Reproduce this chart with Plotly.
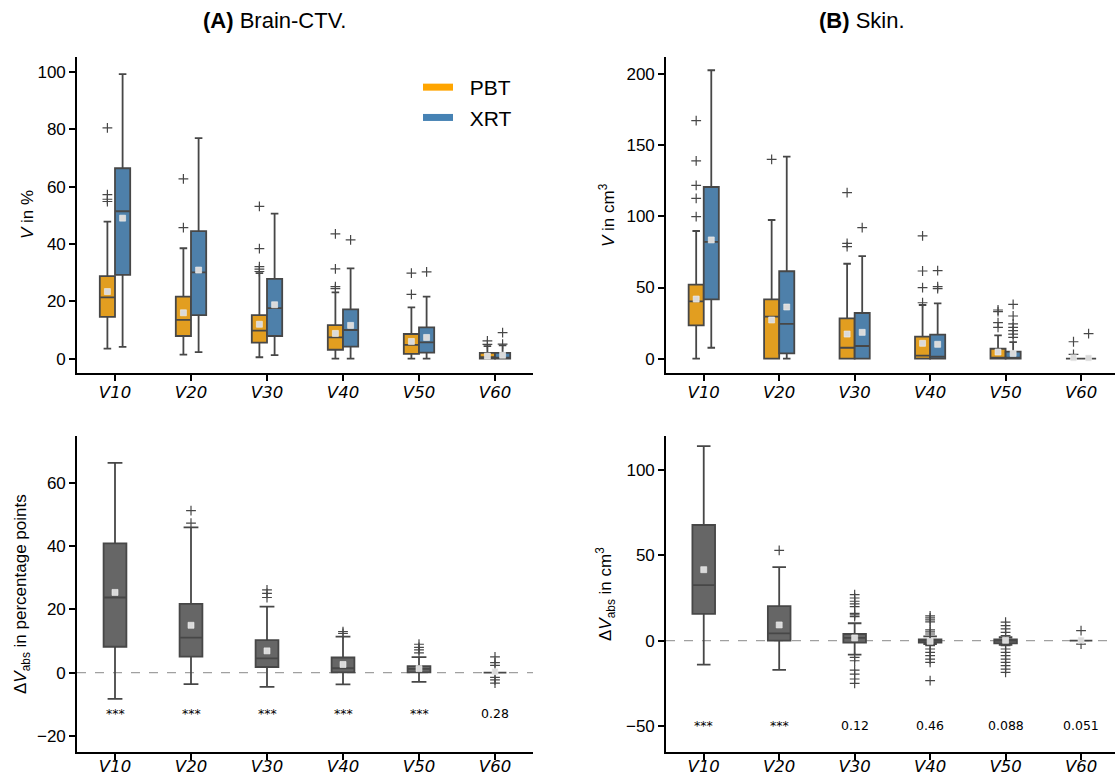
import plotly.graph_objects as go

# ---------------- data ----------------
categories = ["V10", "V20", "V30", "V40", "V50", "V60"]
tick_labels = ["<i>V10</i>", "<i>V20</i>", "<i>V30</i>",
               "<i>V40</i>", "<i>V50</i>", "<i>V60</i>"]

# (A) Brain-CTV, V in %
brain_pbt_q1 = [14.6, 7.9, 5.6, 3.1, 1.7, 0.0]
brain_pbt_med = [21.4, 13.5, 9.8, 7.4, 4.8, 0.5]
brain_pbt_q3 = [28.8, 21.6, 15.2, 11.7, 8.6, 2.0]
brain_pbt_lo = [3.5, 1.4, 0.5, 0.0, 0.0, 0.0]
brain_pbt_hi = [47.8, 38.5, 29.8, 23.1, 17.9, 4.4]
brain_pbt_mean = [23.4, 16.0, 12.0, 8.8, 6.0, 0.9]
brain_pbt_out = [[80.5, 57.2, 55.6, 54.8], [62.7, 45.7], [53.1, 38.4, 32.1, 31.2, 30.4],
                 [43.5, 31.3, 25.1, 24.4], [29.8, 22.4], [6.2, 5.0]]

brain_xrt_q1 = [29.2, 15.2, 7.9, 4.2, 2.1, 0.0]
brain_xrt_med = [51.4, 30.1, 17.6, 10.0, 5.7, 0.3]
brain_xrt_q3 = [66.4, 44.5, 27.8, 17.2, 10.9, 2.0]
brain_xrt_lo = [4.1, 2.3, 1.2, 0.0, 0.0, 0.0]
brain_xrt_hi = [99.2, 76.9, 50.6, 31.5, 21.6, 4.6]
brain_xrt_mean = [49.0, 30.9, 18.8, 11.6, 7.4, 1.2]
brain_xrt_out = [[], [], [], [41.4], [30.3], [9.1, 5.1]]

# (B) Skin, V in cm3
skin_pbt_q1 = [23.4, 0.0, 0.0, 0.0, 0.0, 0.0]
skin_pbt_med = [40.3, 29.5, 7.7, 2.1, 0.5, 0.0]
skin_pbt_q3 = [52.0, 41.7, 28.3, 15.5, 7.0, 0.0]
skin_pbt_lo = [0.0, 0.0, 0.0, 0.0, 0.0, 0.0]
skin_pbt_hi = [89.7, 97.4, 66.7, 37.7, 16.4, 0.0]
skin_pbt_mean = [41.9, 27.2, 17.3, 10.8, 4.7, 0.6]
skin_pbt_out = [[167.2, 138.9, 121.8, 112.6, 99.8], [140.0], [116.6, 81.0, 78.7],
                [86.2, 61.6, 49.9, 39.3], [34.2, 33.0, 25.3, 22.0], [11.9, 3.0]]

skin_xrt_q1 = [41.7, 3.7, 0.0, 0.0, 0.0, 0.0]
skin_xrt_med = [82.0, 24.4, 8.9, 1.4, 0.5, 0.0]
skin_xrt_q3 = [120.6, 61.4, 32.1, 16.9, 4.9, 0.0]
skin_xrt_lo = [7.7, 0.0, 0.0, 0.0, 0.0, 0.0]
skin_xrt_hi = [202.6, 141.9, 72.1, 38.9, 11.7, 0.0]
skin_xrt_mean = [83.4, 36.3, 18.5, 10.1, 3.7, 0.5]
skin_xrt_out = [[], [], [92.0], [61.8, 50.6, 49.2],
                [38.2, 30.0, 24.4, 22.0, 19.7, 17.3, 15.0], [17.6]]

# Differences dV_abs
brain_d_q1 = [8.2, 5.1, 1.8, 0.1, 0.1, 0.0]
brain_d_med = [23.8, 11.1, 4.5, 1.4, 1.2, 0.0]
brain_d_q3 = [40.9, 21.8, 10.3, 4.8, 2.1, 0.0]
brain_d_lo = [-8.3, -3.6, -4.5, -3.7, -2.9, 0.0]
brain_d_hi = [66.4, 46.0, 20.9, 11.4, 4.9, 0.0]
brain_d_mean = [25.4, 15.0, 6.9, 2.6, 1.3, 0.3]
brain_d_out = [[], [51.3, 47.3], [26.2, 25.1, 23.8], [13.0, 12.4],
               [9.0, 8.0, 7.2, 6.3], [5.0, 3.2, 2.3, -1.5, -2.3, -3.3]]
brain_p = ["***", "***", "***", "***", "***", "0.28"]

skin_d_q1 = [15.7, 0.0, -1.2, -1.2, -1.6, 0.0]
skin_d_med = [32.5, 4.3, 1.6, 0.0, 0.0, 0.0]
skin_d_q3 = [67.8, 20.2, 3.9, 0.8, 0.8, 0.0]
skin_d_lo = [-14.1, -17.1, -8.2, -2.0, -2.5, 0.0]
skin_d_hi = [114.1, 43.1, 10.2, 2.5, 2.0, 0.0]
skin_d_mean = [41.6, 9.2, 1.6, -0.4, 0.2, 0.3]
skin_d_out = [[], [52.9],
              [27.0, 25.0, 23.1, 21.6, 20.0, 16.0, 15.1, 14.1, -9.8, -11.8, -17.3, -19.6, -22.5, -25.1],
              [14.5, 13.3, 12.2, 11.0, 6.3, 5.1, 3.9, -2.9, -4.9, -6.9, -8.8, -10.8, -12.7, -23.5],
              [10.8, 8.8, 6.9, 4.9, 2.9, -2.9, -4.9, -6.9, -8.8, -10.8, -12.7, -14.7, -16.7, -18.6],
              [5.9, -2.0]]
skin_p = ["***", "***", "0.12", "0.46", "0.088", "0.051"]

# ---------------- style ----------------
W, H = 1115, 778
C_PBT, C_XRT, C_DIFF = "#E29E20", "#4E80AA", "#666666"
C_PBT_LEG, C_XRT_LEG = "#FFA500", "#4682B4"
EDGE = "#474747"
SANS = "Liberation Sans, Arial, sans-serif"
DEJ = "DejaVu Sans, sans-serif"


def px_x(p):
    return p / W


def px_y(p):
    return 1 - p / H


fig = go.Figure()
pos = list(range(len(categories)))


def add_box(ax, q1, med, q3, lo, hi, mean, out, color, offset, width, ww):
    xs = [p + offset for p in pos]
    fig.add_trace(go.Box(
        x=xs, q1=q1, median=med, q3=q3, lowerfence=lo, upperfence=hi,
        width=width, boxpoints=False, fillcolor=color, whiskerwidth=ww,
        line=dict(color=EDGE, width=1.8), xaxis="x" + ax, yaxis="y" + ax,
        showlegend=False, hoverinfo="skip"))
    ox, oy = [], []
    for p, vals in zip(xs, out):
        for v in vals:
            ox.append(p)
            oy.append(v)
    fig.add_trace(go.Scatter(
        x=ox, y=oy, mode="markers", xaxis="x" + ax, yaxis="y" + ax, showlegend=False,
        marker=dict(symbol="cross-thin-open", size=7, color=EDGE, line=dict(width=1.2, color=EDGE))))
    fig.add_trace(go.Scatter(
        x=xs, y=mean, mode="markers", xaxis="x" + ax, yaxis="y" + ax, showlegend=False,
        marker=dict(symbol="square", size=6, color="#dadada", line=dict(width=0.6, color="#f2f2f2"))))


add_box("", brain_pbt_q1, brain_pbt_med, brain_pbt_q3, brain_pbt_lo, brain_pbt_hi,
        brain_pbt_mean, brain_pbt_out, C_PBT, -0.1, 0.2, 0.5)
add_box("", brain_xrt_q1, brain_xrt_med, brain_xrt_q3, brain_xrt_lo, brain_xrt_hi,
        brain_xrt_mean, brain_xrt_out, C_XRT, 0.1, 0.2, 0.5)
add_box("2", skin_pbt_q1, skin_pbt_med, skin_pbt_q3, skin_pbt_lo, skin_pbt_hi,
        skin_pbt_mean, skin_pbt_out, C_PBT, -0.1, 0.2, 0.5)
add_box("2", skin_xrt_q1, skin_xrt_med, skin_xrt_q3, skin_xrt_lo, skin_xrt_hi,
        skin_xrt_mean, skin_xrt_out, C_XRT, 0.1, 0.2, 0.5)
add_box("3", brain_d_q1, brain_d_med, brain_d_q3, brain_d_lo, brain_d_hi,
        brain_d_mean, brain_d_out, C_DIFF, 0.0, 0.3, 0.65)
add_box("4", skin_d_q1, skin_d_med, skin_d_q3, skin_d_lo, skin_d_hi,
        skin_d_mean, skin_d_out, C_DIFF, 0.0, 0.3, 0.6)

# legend entries
fig.add_trace(go.Scatter(x=[None], y=[None], mode="lines", name="\u00a0\u00a0PBT",
                         line=dict(color=C_PBT_LEG, width=7), legendgroup="a"))
fig.add_trace(go.Scatter(x=[None], y=[None], mode="lines", name="\u00a0\u00a0XRT",
                         line=dict(color=C_XRT_LEG, width=7), legendgroup="b"))

axis_common = dict(showline=True, linecolor="black", linewidth=1.6, ticks="outside",
                   ticklen=6, tickwidth=1.5, tickcolor="black", showgrid=False,
                   zeroline=False, automargin=False)
xaxis_common = dict(axis_common, tickmode="array", tickvals=pos, ticktext=tick_labels,
                    tickfont=dict(family=DEJ, size=16.5, color="black"))
yfont = dict(family=SANS, size=17, color="black")

left_dom = [px_x(77), px_x(533)]
right_dom = [px_x(666), 1.0]
top_dom = [px_y(373), px_y(57)]
bot_dom = [px_y(752), px_y(436)]

fig.update_layout(
    width=W, height=H, margin=dict(l=0, r=0, t=0, b=0),
    paper_bgcolor="white", plot_bgcolor="white", boxmode="overlay",
    xaxis=dict(xaxis_common, domain=left_dom, range=[-0.5, 5.5], anchor="y",
               ticklabelstandoff=-3),
    yaxis=dict(axis_common, domain=top_dom, range=[-5.0, 105.2], anchor="x",
               tickvals=[0, 20, 40, 60, 80, 100], tickfont=yfont),
    xaxis2=dict(xaxis_common, domain=right_dom, range=[-0.5, 5.45], anchor="y2",
                ticklabelstandoff=-3),
    yaxis2=dict(axis_common, domain=top_dom, range=[-10.05, 211.9], anchor="x2",
                tickvals=[0, 50, 100, 150, 200], tickfont=yfont),
    xaxis3=dict(xaxis_common, domain=left_dom, range=[-0.5, 5.5], anchor="y3",
                ticklabelstandoff=-8),
    yaxis3=dict(axis_common, domain=bot_dom, range=[-25.1, 74.9], anchor="x3",
                tickvals=[-20, 0, 20, 40, 60], tickfont=yfont),
    xaxis4=dict(xaxis_common, domain=right_dom, range=[-0.5, 5.45], anchor="y4",
                ticklabelstandoff=-8),
    yaxis4=dict(axis_common, domain=bot_dom, range=[-65.3, 120.0], anchor="x4",
                tickvals=[-50, 0, 50, 100], tickfont=yfont),
    legend=dict(x=px_x(418), y=px_y(67), xanchor="left", yanchor="top",
                font=dict(family=SANS, size=21, color="black"), bgcolor="rgba(0,0,0,0)",
                tracegroupgap=0, itemwidth=30),
    showlegend=True,
)

# zero reference lines in the difference panels
for ax in ["3", "4"]:
    fig.add_shape(type="line", xref="x%s domain" % ax, yref="y" + ax, x0=0, x1=1, y0=0, y1=0,
                  line=dict(color="#a0a0a0", width=1.2, dash="dash"), layer="below")

# p-values
for c, t in zip(pos, brain_p):
    fig.add_annotation(x=c, y=-12.9, xref="x3", yref="y3", text=t, showarrow=False,
                       xanchor="center", yanchor="middle",
                       font=dict(family=DEJ, size=12.5, color="black"))
for c, t in zip(pos, skin_p):
    fig.add_annotation(x=c, y=-50, xref="x4", yref="y4", text=t, showarrow=False,
                       xanchor="center", yanchor="middle",
                       font=dict(family=DEJ, size=12.5, color="black"))

# panel titles
fig.add_annotation(x=px_x(274.5), y=px_y(21), xref="paper", yref="paper",
                   xanchor="center", yanchor="middle",
                   text="<b>(A)</b> Brain-CTV.", showarrow=False,
                   font=dict(family=SANS, size=22, color="black"))
fig.add_annotation(x=px_x(862), y=px_y(21), xref="paper", yref="paper",
                   xanchor="center", yanchor="middle",
                   text="<b>(B)</b> Skin.", showarrow=False,
                   font=dict(family=SANS, size=22, color="black"))

# y-axis titles
ytitles = [
    (27, 215, "<i>V</i> in %"),
    (607, 215, "<i>V</i> in cm<sup>3</sup>"),
    (22, 594, "Δ<i>V</i><sub>abs</sub> in percentage points"),
    (605, 594, "Δ<i>V</i><sub>abs</sub> in cm<sup>3</sup>"),
]
for xx, yy, t in ytitles:
    fig.add_annotation(x=px_x(xx), y=px_y(yy), xref="paper", yref="paper", text=t,
                       showarrow=False, textangle=-90, xanchor="center", yanchor="middle",
                       font=dict(family=SANS, size=17, color="black"))

fig.write_html("out.html")
